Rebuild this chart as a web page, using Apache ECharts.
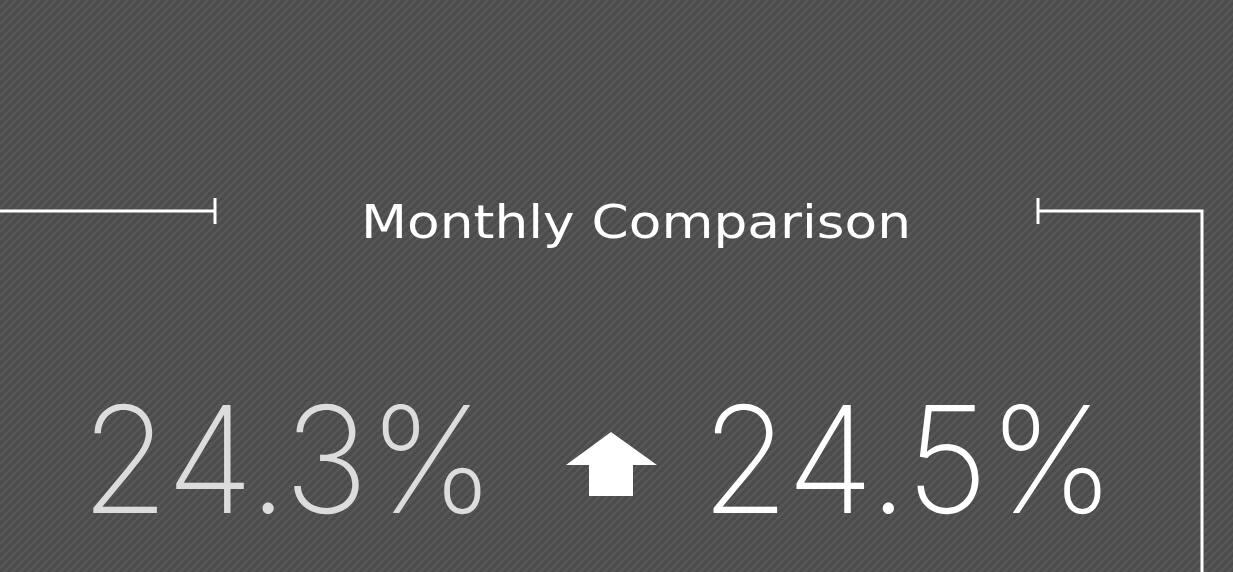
<!DOCTYPE html>
<html><head><meta charset="utf-8">
<script src="https://cdn.jsdelivr.net/npm/echarts@6/dist/echarts.min.js"></script>
<style>html,body{margin:0;padding:0;background:#4e4e4e}#c{width:1233px;height:572px}</style>
</head><body><div id="c"></div>
<script>
var titleText = 'Monthly Comparison';
var previousValue = [24.3];
var currentValue = [24.5];
var unitSuffix = ['%'];

function stripes(){
  var p = 8, c = document.createElement('canvas');
  c.width = p; c.height = p;
  var g = c.getContext('2d');
  g.fillStyle = '#4b4b4b'; g.fillRect(0,0,p,p);
  g.strokeStyle = '#575757'; g.lineWidth = 3;
  for (var k=-1;k<=1;k++){
    g.beginPath(); g.moveTo(k*p, p); g.lineTo(k*p+p, 0); g.stroke();
  }
  return c;
}

var chart = echarts.init(document.getElementById('c'), null, {renderer:'canvas'});
var numFont = 'Inter, Lato, sans-serif';
var up = currentValue[0] >= previousValue[0];
chart.setOption({
  backgroundColor: {image: stripes(), repeat: 'repeat'},
  graphic: [
    {type:'polyline', shape:{points:[[0,211],[215,211]]}, style:{stroke:'#fff', lineWidth:3, fill:null}},
    {type:'line', shape:{x1:215,y1:198,x2:215,y2:224}, style:{stroke:'#fff', lineWidth:3}},
    {type:'line', shape:{x1:1038,y1:198,x2:1038,y2:224}, style:{stroke:'#fff', lineWidth:3}},
    {type:'polyline', shape:{points:[[1038,211],[1202,211],[1202,572]]}, style:{stroke:'#fff', lineWidth:3, fill:null}},
    {type:'text', x:636, y:249, scaleX:1.16, originX:0, style:{text:titleText, fill:'#fff', font:'400 46px "DejaVu Sans", sans-serif', textAlign:'center', textVerticalAlign:'bottom'}},
    {type:'text', x:288, y:542, scaleX:0.96, originX:0, style:{text:previousValue[0].toFixed(1)+unitSuffix[0], fill:'#dcdcdc', font:'200 148px '+numFont, textAlign:'center', textVerticalAlign:'bottom'}},
    {type:'text', x:908, y:542, scaleX:0.96, originX:0, style:{text:currentValue[0].toFixed(1)+unitSuffix[0], fill:'#ffffff', font:'200 148px '+numFont, textAlign:'center', textVerticalAlign:'bottom'}},
    {type:'polygon', shape:{points: up ? [[611,432],[657,465],[633,465],[633,496],[589,496],[589,465],[566,465]] : []}, style:{fill:'#fff'}}
  ]
});
</script></body></html>
